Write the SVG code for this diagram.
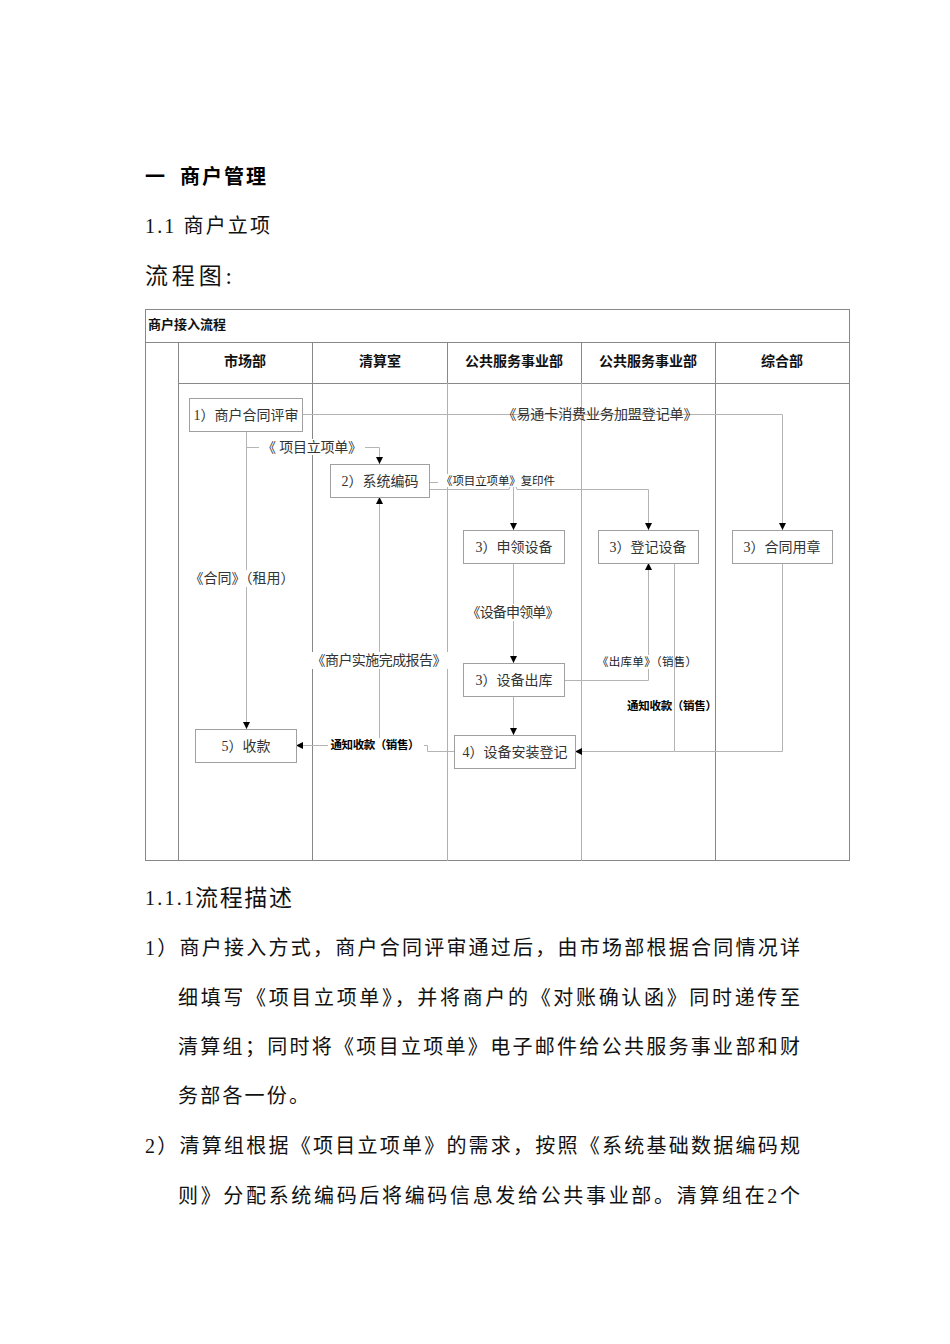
<svg xmlns="http://www.w3.org/2000/svg" width="950" height="1344" viewBox="0 0 950 1344">
<style>
  .doc{font-family:"Liberation Serif","Noto Sans CJK SC",serif;font-size:20px;fill:#111;}
  .h1{font-family:"Liberation Serif","Noto Sans CJK SC",serif;font-size:20px;font-weight:bold;fill:#000;}
  .frame{fill:none;stroke:#888;stroke-width:1;}
  .lane{stroke:#888;stroke-width:1;}
  .lane2{stroke:#b0b0b0;stroke-width:1;}
  .hdr{font-family:"Liberation Sans","Noto Sans CJK SC",sans-serif;font-size:14px;font-weight:bold;fill:#111;text-anchor:middle;}
  .node rect{fill:#fff;stroke:#a0a0a0;stroke-width:1;}
  .node text{font-family:"Liberation Serif","Noto Sans CJK SC",serif;font-size:14px;fill:#333;text-anchor:middle;}
  .conn{fill:none;stroke:#b4b4b4;stroke-width:1;}
  .lbl{font-family:"Liberation Sans","Noto Sans CJK SC",sans-serif;font-size:14px;fill:#333;text-anchor:middle;}
  .lbls{font-family:"Liberation Sans","Noto Sans CJK SC",sans-serif;font-size:11.5px;fill:#222;text-anchor:middle;}
  .lblb{font-family:"Liberation Sans","Noto Sans CJK SC",sans-serif;font-size:11.5px;font-weight:bold;fill:#000;text-anchor:middle;}
  .bg{fill:#fff;}
</style>
<defs>
  <marker id="arr" viewBox="0 0 8 8" refX="8" refY="4" markerWidth="7" markerHeight="7" markerUnits="userSpaceOnUse" orient="auto">
    <path d="M0,0 L8,4 L0,8 z" fill="#000"/>
  </marker>
</defs>
<rect width="950" height="1344" fill="#fff"/>

<!-- document headings -->
<text class="h1" x="145" y="184">一</text>
<text class="h1" x="180" y="184" textLength="86" lengthAdjust="spacing">商户管理</text>
<text class="doc" x="145" y="233" textLength="125" lengthAdjust="spacing">1.1 商户立项</text>
<text class="doc" x="145" y="284" style="font-size:23px" textLength="87" lengthAdjust="spacing">流程图:</text>

<!-- swimlane frame -->
<g id="frame">
  <rect class="frame" x="145.5" y="309.5" width="704" height="551"/>
  <line class="lane" x1="145" y1="342.5" x2="850" y2="342.5"/>
  <line class="lane" x1="178" y1="383.5" x2="850" y2="383.5"/>
  <line class="lane" x1="178.5" y1="342" x2="178.5" y2="861"/>
  <line class="lane" x1="312.5" y1="342" x2="312.5" y2="861"/>
  <line class="lane" x1="447.5" y1="342" x2="447.5" y2="383"/>
  <line class="lane2" x1="447.5" y1="383" x2="447.5" y2="861"/>
  <line class="lane" x1="581.5" y1="342" x2="581.5" y2="383"/>
  <line class="lane2" x1="581.5" y1="383" x2="581.5" y2="861"/>
  <line class="lane" x1="715.5" y1="342" x2="715.5" y2="861"/>
  <text x="148" y="329" font-family="Liberation Sans, Noto Sans CJK SC, sans-serif" font-size="13" font-weight="bold" fill="#111">商户接入流程</text>
  <text class="hdr" x="245" y="366">市场部</text>
  <text class="hdr" x="380" y="366">清算室</text>
  <text class="hdr" x="514" y="366">公共服务事业部</text>
  <text class="hdr" x="648" y="366">公共服务事业部</text>
  <text class="hdr" x="782" y="366">综合部</text>
</g>

<!-- connectors -->
<g id="connectors">
  <path class="conn" d="M302,414.5 H782.5 V530" marker-end="url(#arr)"/>
  <path class="conn" d="M246.5,431 V729" marker-end="url(#arr)"/>
  <path class="conn" d="M246.5,447.5 H379.5 V464" marker-end="url(#arr)"/>
  <path class="conn" d="M429,482.5 H438"/>
  <path class="conn" d="M429,489.5 H509 A4,4 0 0 1 517,489.5 H648.5 V530" marker-end="url(#arr)"/>
  <path class="conn" d="M513.5,486 V530" marker-end="url(#arr)"/>
  <path class="conn" d="M513.5,563 V663" marker-end="url(#arr)"/>
  <path class="conn" d="M513.5,696 V735" marker-end="url(#arr)"/>
  <path class="conn" d="M564,680.5 H648.5 V563" marker-end="url(#arr)"/>
  <path class="conn" d="M379.5,745 V497" marker-end="url(#arr)"/>
  <path class="conn" d="M454,751.5 H427.5 V745.5 H296" marker-end="url(#arr)"/>
  <path class="conn" d="M782.5,563 V751.5 H674.5"/>
  <path class="conn" d="M674.5,563 V751.5 H575" marker-end="url(#arr)"/>

  <text class="lbl" x="600" y="419" fill="#555" textLength="195" lengthAdjust="spacing">《易通卡消费业务加盟登记单》</text>
  <rect class="bg" x="259" y="439" width="106" height="16"/>
  <text class="lbl" x="312" y="452" textLength="100" lengthAdjust="spacing">《 项目立项单》</text>
  <rect class="bg" x="439" y="474" width="118" height="13"/>
  <text class="lbls" x="498" y="485" textLength="114" lengthAdjust="spacing">《项目立项单》复印件</text>
  <rect class="bg" x="187" y="570" width="111" height="17"/>
  <text class="lbl" x="242" y="583" textLength="105" lengthAdjust="spacing">《合同》（租用）</text>
  <rect class="bg" x="464" y="604" width="99" height="17"/>
  <text class="lbl" x="513" y="617" textLength="93" lengthAdjust="spacing">《设备申领单》</text>
  <rect class="bg" x="309" y="652" width="141" height="17"/>
  <text class="lbl" x="379" y="665" textLength="135" lengthAdjust="spacing">《商户实施完成报告》</text>
  <rect class="bg" x="595" y="655" width="104" height="14"/>
  <text class="lbls" x="647" y="666" textLength="100" lengthAdjust="spacing">《出库单》（销售）</text>
  <line class="conn" x1="674.5" y1="655" x2="674.5" y2="669"/>
  <text class="lblb" x="672" y="710" textLength="90" lengthAdjust="spacing">通知收款（销售）</text>
  <rect class="bg" x="328" y="738" width="96" height="14"/>
  <text class="lblb" x="375" y="749" textLength="89" lengthAdjust="spacing">通知收款（销售）</text>
</g>

<!-- nodes -->
<g id="n1" class="node"><rect x="189.5" y="398.5" width="113" height="33"/><text x="246" y="420">1）商户合同评审</text></g>
<g id="n2" class="node"><rect x="330.5" y="464.5" width="99" height="33"/><text x="380" y="486">2）系统编码</text></g>
<g id="n3a" class="node"><rect x="463.5" y="530.5" width="101" height="33"/><text x="514" y="552">3）申领设备</text></g>
<g id="n3b" class="node"><rect x="598.5" y="530.5" width="100" height="33"/><text x="648" y="552">3）登记设备</text></g>
<g id="n3c" class="node"><rect x="732.5" y="530.5" width="100" height="33"/><text x="782" y="552">3）合同用章</text></g>
<g id="n3d" class="node"><rect x="463.5" y="663.5" width="101" height="33"/><text x="514" y="685">3）设备出库</text></g>
<g id="n4" class="node"><rect x="454.5" y="735.5" width="121" height="33"/><text x="515" y="757">4）设备安装登记</text></g>
<g id="n5" class="node"><rect x="195.5" y="729.5" width="101" height="33"/><text x="246" y="751">5）收款</text></g>

<!-- description text -->
<text class="doc" x="145" y="905" textLength="49" lengthAdjust="spacing">1.1.1</text>
<text class="doc" x="195" y="906" style="font-size:23px" textLength="97" lengthAdjust="spacing">流程描述</text>
<text class="doc" x="145" y="955" textLength="655" lengthAdjust="spacing">1）商户接入方式，商户合同评审通过后，由市场部根据合同情况详</text>
<text class="doc" x="178" y="1005" textLength="622" lengthAdjust="spacing">细填写《项目立项单》，并将商户的《对账确认函》同时递传至</text>
<text class="doc" x="178" y="1054" textLength="622" lengthAdjust="spacing">清算组；同时将《项目立项单》电子邮件给公共服务事业部和财</text>
<text class="doc" x="178" y="1103" letter-spacing="2.2">务部各一份。</text>
<text class="doc" x="145" y="1153" textLength="655" lengthAdjust="spacing">2）清算组根据《项目立项单》的需求，按照《系统基础数据编码规</text>
<text class="doc" x="178" y="1203" textLength="622" lengthAdjust="spacing">则》分配系统编码后将编码信息发给公共事业部。清算组在2个</text>
</svg>
